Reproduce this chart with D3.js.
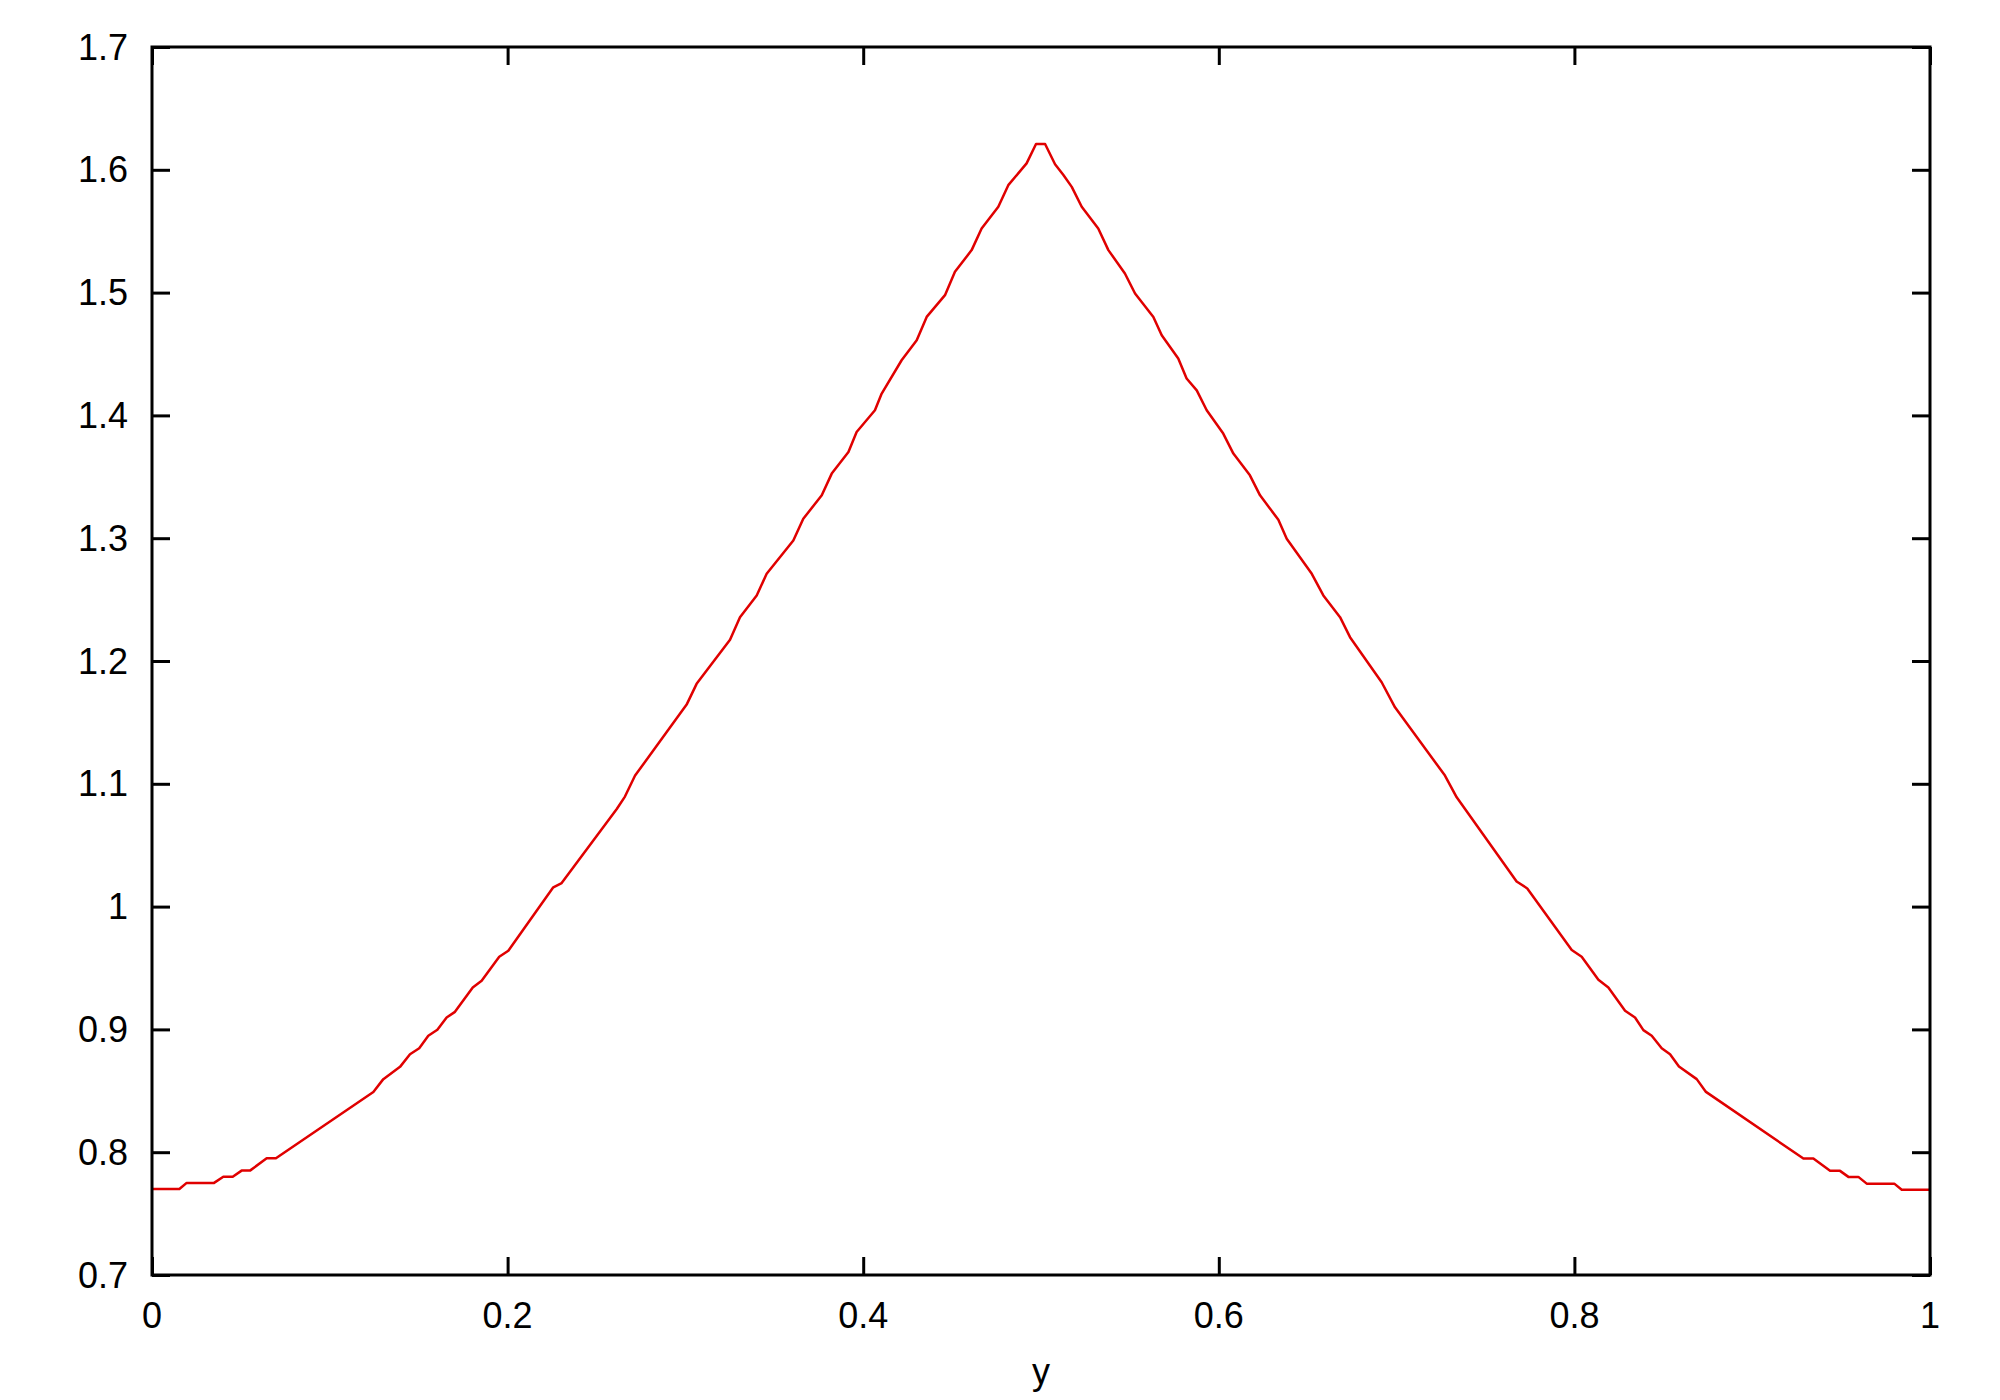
<!DOCTYPE html>
<html>
<head>
<meta charset="utf-8">
<script src="https://cdn.jsdelivr.net/npm/d3@7"></script>
<style>
  body { margin: 0; background: #fff; }
  svg { display: block; }
  .tick-label { font-family: 'Liberation Sans', Arial, sans-serif; font-size: 36px; fill: #000; }
</style>
</head>
<body>
<div id="chart"></div>
<script>
// Curve values (x = y coordinate, value on vertical axis)
const xs = [
  0, 0.0154, 0.0195, 0.0349, 0.0401, 0.0454, 0.0504, 0.0551, 0.0645, 0.0697,
  0.1245, 0.1301, 0.1395, 0.1451, 0.1503, 0.1554, 0.1605, 0.1657, 0.1704, 0.1804,
  0.1854, 0.1953, 0.2004, 0.2257, 0.2304, 0.2614, 0.266, 0.2717, 0.3007, 0.3063,
  0.3251, 0.3307, 0.3401, 0.3457, 0.3607, 0.3663, 0.3767, 0.3823, 0.3917, 0.3963,
  0.4066, 0.4104, 0.4216, 0.4301, 0.4357, 0.446, 0.4516, 0.461, 0.4666, 0.476,
  0.4816, 0.4919, 0.4972, 0.5023,
  0.5079, 0.5126, 0.5173, 0.5229, 0.5322, 0.5379, 0.5472, 0.5529, 0.5632, 0.5679,
  0.5772, 0.5819, 0.5876, 0.5932, 0.6025, 0.6082, 0.6175, 0.6232, 0.6335, 0.6382,
  0.6523, 0.6588, 0.6682, 0.6738, 0.6916, 0.6991, 0.7272, 0.7338, 0.7675, 0.7735,
  0.7985, 0.8041, 0.8135, 0.8191, 0.8285, 0.8341, 0.8388, 0.8435, 0.8491, 0.8538,
  0.8588, 0.8688, 0.874, 0.9288, 0.9344, 0.9438, 0.9494, 0.9541, 0.9597, 0.9644,
  0.9799, 0.9841, 1
]
const values = [
  0.77, 0.77, 0.775, 0.775, 0.78, 0.78, 0.785, 0.785, 0.795, 0.795,
  0.849, 0.8595, 0.8695, 0.8798, 0.8847, 0.8948, 0.8997, 0.9097, 0.9143, 0.9342,
  0.9396, 0.9592, 0.964, 1.0157, 1.0192, 1.0795, 1.0896, 1.1067, 1.1645, 1.1814,
  1.2173, 1.2357, 1.2534, 1.271, 1.2982, 1.3159, 1.3349, 1.3526, 1.3702, 1.3865,
  1.4042, 1.4178, 1.4449, 1.4612, 1.4802, 1.4979, 1.5169, 1.5346, 1.5522, 1.5699,
  1.5875, 1.6052, 1.621, 1.621,
  1.6045, 1.5957, 1.5861, 1.5699, 1.5522, 1.5346, 1.5156, 1.4993, 1.4802, 1.4653,
  1.4463, 1.43, 1.4204, 1.4042, 1.3852, 1.3689, 1.3512, 1.3349, 1.315, 1.2996,
  1.271, 1.2534, 1.2357, 1.2194, 1.1827, 1.1623, 1.1067, 1.089, 1.0204, 1.0148,
  0.9646, 0.9592, 0.9404, 0.9342, 0.9152, 0.9097, 0.8994, 0.8948, 0.8847, 0.8798,
  0.8698, 0.8595, 0.8491, 0.7948, 0.7948, 0.7848, 0.7848, 0.7799, 0.7799, 0.7744,
  0.7744, 0.7695, 0.7695
]

const xTicks = [0, 0.2, 0.4, 0.6, 0.8, 1]
const yTicks = [0.7, 0.8, 0.9, 1.0, 1.1, 1.2, 1.3, 1.4, 1.5, 1.6, 1.7]
const xLabel = 'y'

const width = 2000
const height = 1400
const margin = { top: 47, right: 70, bottom: 125, left: 152 }
const innerWidth = width - margin.left - margin.right
const innerHeight = height - margin.top - margin.bottom
const tickLen = 18

const svg = d3.select('#chart')
  .append('svg')
  .attr('width', width)
  .attr('height', height)

const g = svg.append('g')
  .attr('transform', `translate(${margin.left}, ${margin.top})`)

const xScale = d3.scaleLinear().domain([0, 1]).range([0, innerWidth])
const yScale = d3.scaleLinear().domain([0.7, 1.7]).range([innerHeight, 0])

const data = xs.map((x, i) => ({ x, v: values[i] }))

// Inward ticks on all four sides (mirror style)
const styleAxis = (sel) => {
  sel.select('.domain').remove()
  sel.selectAll('.tick line').attr('stroke', '#000').attr('stroke-width', 3)
}

g.append('g')
  .attr('transform', `translate(0, ${innerHeight})`)
  .call(d3.axisBottom(xScale).tickValues(xTicks).tickSize(-tickLen).tickFormat(''))
  .call(styleAxis)

g.append('g')
  .call(d3.axisTop(xScale).tickValues(xTicks).tickSize(-tickLen).tickFormat(''))
  .call(styleAxis)

g.append('g')
  .call(d3.axisLeft(yScale).tickValues(yTicks).tickSize(-tickLen).tickFormat(''))
  .call(styleAxis)

g.append('g')
  .attr('transform', `translate(${innerWidth}, 0)`)
  .call(d3.axisRight(yScale).tickValues(yTicks).tickSize(-tickLen).tickFormat(''))
  .call(styleAxis)

// Tick labels
g.selectAll('.xlab')
  .data(xTicks)
  .enter().append('text')
  .attr('class', 'tick-label')
  .attr('x', d => xScale(d))
  .attr('y', innerHeight + 53)
  .attr('text-anchor', 'middle')
  .text(d => d3.format('~g')(d))

g.selectAll('.ylab')
  .data(yTicks)
  .enter().append('text')
  .attr('class', 'tick-label')
  .attr('x', -24)
  .attr('y', d => yScale(d))
  .attr('dy', '0.35em')
  .attr('text-anchor', 'end')
  .text(d => d3.format('~g')(d))

// Axis title
g.append('text')
  .attr('class', 'tick-label')
  .attr('x', innerWidth / 2)
  .attr('y', innerHeight + 109)
  .attr('text-anchor', 'middle')
  .text(xLabel)

// The curve
const line = d3.line()
  .x(d => xScale(d.x))
  .y(d => yScale(d.v))

g.append('path')
  .datum(data)
  .attr('fill', 'none')
  .attr('stroke', '#e00000')
  .attr('stroke-width', 2.5)
  .attr('stroke-linejoin', 'round')
  .attr('d', line)

// Frame
g.append('rect')
  .attr('width', innerWidth)
  .attr('height', innerHeight)
  .attr('fill', 'none')
  .attr('stroke', '#000')
  .attr('stroke-width', 3)
</script>
</body>
</html>
